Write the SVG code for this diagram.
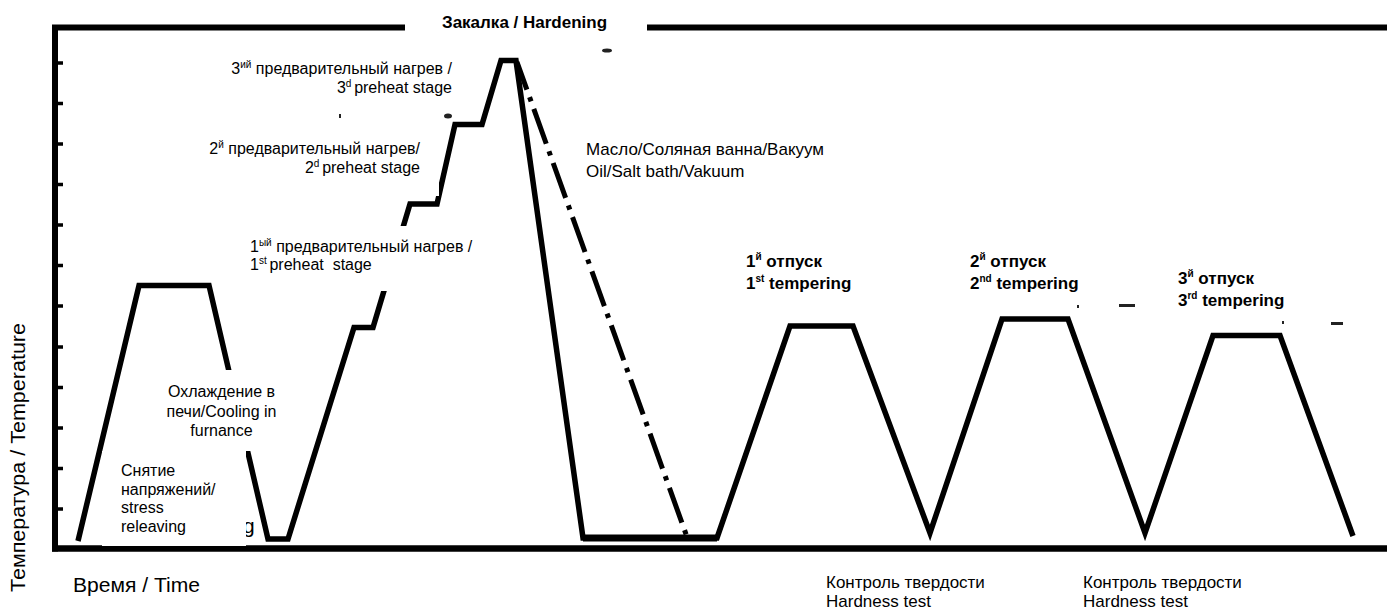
<svg xmlns="http://www.w3.org/2000/svg" width="1387" height="610" viewBox="0 0 1387 610">
<style>
text{font-family:"Liberation Sans",Arial,sans-serif;fill:#000}
.b{font-weight:bold}
.ln{fill:none;stroke:#000;stroke-linejoin:miter;stroke-miterlimit:6}
.wb{fill:#fff;stroke:none}
.mk{fill:#222;stroke:none}
</style>
<rect width="1387" height="610" fill="#fff"/>
<g id="axes" fill="none" stroke="#000">
 <line x1="52" y1="27.5" x2="405" y2="27.5" stroke-width="6"/>
 <line x1="647" y1="27.5" x2="1387" y2="27.5" stroke-width="6"/>
 <line x1="55" y1="25" x2="55" y2="551.5" stroke-width="6"/>
 <line x1="52" y1="548.5" x2="1387" y2="548.5" stroke-width="6.5"/>
 <path stroke-width="3.5" d="M55,63H63 M55,103.5H63 M55,144H63 M55,184.5H63 M55,225H63 M55,265.5H63 M55,306H63 M55,347H63 M55,387.5H63 M55,428H63 M55,468.5H63 M55,509H63"/>
</g>
<g id="connectors">
 <path class="ln" stroke-width="5.5" d="M78,541 L139,285.5 L209,285.5 L268,539 L288,539 L354,327.5 L373,327.5 L410,204 L437,204 L455,124.5 L482,124.5 L501,60.5 L516,60.5 L583,538 L717,538 L790,326 L853,326 L930,533 L1002,319 L1068,319 L1145,533 L1213,335.5 L1280,335.5 L1353,536"/>
 <line x1="583" y1="538" x2="717" y2="538" stroke="#000" stroke-width="7"/>
 <path class="ln" stroke-width="5" stroke-dasharray="37 8 4.5 8" stroke-dashoffset="7.7" d="M517,62 L687,537"/>
</g>
<g id="remnant-g">
 <text x="243" y="533" font-size="21">g</text>
</g>
<g id="label-backgrounds">
 <rect class="wb" x="155" y="370" width="97" height="81"/>
 <rect class="wb" x="102" y="451" width="144" height="95"/>
 <rect class="wb" x="240" y="226" width="174" height="65"/>
 <rect class="wb" x="200" y="130" width="239" height="66"/>
</g>
<g id="marks">
 <ellipse class="mk" cx="607" cy="50.5" rx="5" ry="2"/>
 <ellipse class="mk" cx="448" cy="116" rx="4" ry="2.5"/>
 <rect class="mk" x="339" y="114" width="2" height="4"/>
 <rect class="mk" x="1119" y="304" width="16" height="3"/>
 <rect class="mk" x="1077" y="305" width="2" height="3"/>
 <rect class="mk" x="1282" y="321" width="2" height="3"/>
 <rect class="mk" x="1331" y="322" width="12" height="3"/>
</g>
<g id="label-hardening">
 <text class="b" x="442" y="28" font-size="17">Закалка / Hardening</text>
</g>
<g id="label-preheat3" font-size="16">
 <text x="452" y="74" text-anchor="end">3<tspan font-size="10" dy="-6">ий</tspan><tspan dy="6"> предварительный нагрев /</tspan></text>
 <text x="452" y="93" text-anchor="end">3<tspan font-size="10" dy="-6">d </tspan><tspan dy="6">preheat stage</tspan></text>
</g>
<g id="label-preheat2" font-size="16">
 <text x="420" y="154" text-anchor="end">2<tspan font-size="10" dy="-6">й</tspan><tspan dy="6"> предварительный нагрев/</tspan></text>
 <text x="420" y="173" text-anchor="end">2<tspan font-size="10" dy="-6">d </tspan><tspan dy="6">preheat stage</tspan></text>
</g>
<g id="label-preheat1" font-size="16">
 <text x="250" y="252">1<tspan font-size="10" dy="-6">ый</tspan><tspan dy="6"> предварительный нагрев /</tspan></text>
 <text x="250" y="270">1<tspan font-size="10" dy="-6">st </tspan><tspan dy="6">preheat&#160; stage</tspan></text>
</g>
<g id="label-quench" font-size="17">
 <text x="586" y="155">Масло/Соляная ванна/Вакуум</text>
 <text x="586" y="177">Oil/Salt bath/Vakuum</text>
</g>
<g id="label-cooling" font-size="16" text-anchor="middle">
 <text x="221.5" y="397">Охлаждение в</text>
 <text x="221.5" y="417">печи/Cooling in</text>
 <text x="221.5" y="436">furnance</text>
</g>
<g id="label-stress" font-size="16">
 <text x="121" y="476">Снятие</text>
 <text x="121" y="495">напряжений/</text>
 <text x="121" y="513">stress</text>
 <text x="121" y="532">releaving</text>
</g>
<g id="label-tempering1" class="b" font-size="17">
 <text class="b" x="746" y="267">1<tspan font-size="10" dy="-7">й</tspan><tspan dy="7"> отпуск</tspan></text>
 <text class="b" x="746" y="289">1<tspan font-size="10" dy="-7">st</tspan><tspan dy="7"> tempering</tspan></text>
</g>
<g id="label-tempering2" font-size="17">
 <text class="b" x="970" y="267">2<tspan font-size="10" dy="-7">й</tspan><tspan dy="7"> отпуск</tspan></text>
 <text class="b" x="970" y="289">2<tspan font-size="10" dy="-7">nd</tspan><tspan dy="7"> tempering</tspan></text>
</g>
<g id="label-tempering3" font-size="17">
 <text class="b" x="1178" y="284">3<tspan font-size="10" dy="-7">й</tspan><tspan dy="7"> отпуск</tspan></text>
 <text class="b" x="1178" y="306">3<tspan font-size="10" dy="-7">rd</tspan><tspan dy="7"> tempering</tspan></text>
</g>
<g id="label-hardness1" font-size="17">
 <text x="826" y="588">Контроль твердости</text>
 <text x="826" y="607">Hardness test</text>
</g>
<g id="label-hardness2" font-size="17">
 <text x="1083" y="588">Контроль твердости</text>
 <text x="1083" y="607">Hardness test</text>
</g>
<g id="label-time">
 <text x="73" y="592" font-size="20" textLength="127" lengthAdjust="spacingAndGlyphs">Время / Time</text>
</g>
<g id="label-temperature">
 <text transform="translate(25,592) rotate(-90)" font-size="21" textLength="269" lengthAdjust="spacingAndGlyphs">Температура / Temperature</text>
</g>
</svg>
